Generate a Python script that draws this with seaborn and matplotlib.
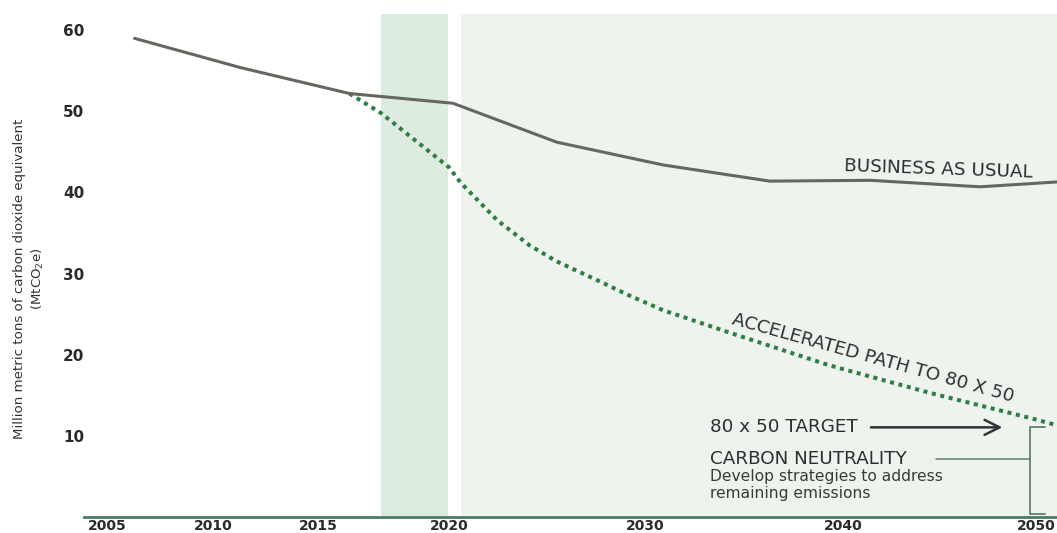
import numpy as np
import pandas as pd
import matplotlib
matplotlib.use("Agg")
import matplotlib.pyplot as plt
import seaborn as sns

# ---- data (MtCO2e) ----
bau_years = [2006.3, 2011.3, 2016.2, 2020.2, 2025.5, 2030.9, 2036.3, 2041.4, 2047.1, 2051.1]
bau_values = [59.0, 55.4, 52.2, 51.0, 46.2, 43.4, 41.4, 41.5, 40.7, 41.3]

accel_years = [2016.2, 2017.4, 2020.0, 2020.6, 2022.45, 2024.1, 2025.5, 2027.55,
               2029.2, 2030.9, 2032.6, 2034.3, 2039.3, 2044.5, 2049.7, 2051.1]
accel_values = [52.2, 49.8, 43.1, 41.2, 36.6, 33.5, 31.5, 29.2,
                27.3, 25.5, 24.1, 22.7, 18.7, 15.3, 12.2, 11.3]

tick_years = [2005, 2010, 2015, 2020, 2030, 2040, 2050]
y_ticks = [10, 20, 30, 40, 50, 60]

target_value = 11.05        # 80 x 50 target level
neutral_value = 0.43        # carbon neutrality level

phase1 = (2017.4, 2019.96)  # near-term action window
phase2 = (2020.6, 2060)     # long-term pathway

# ---- non-uniform year axis (piecewise-linear spacing between labelled years) ----
scale_years = np.array([2000, 2005, 2010, 2015, 2020, 2030, 2040, 2050, 2060], float)
scale_units = np.array([1, 107, 213, 318, 449, 645, 843, 1036, 1229], float)


def _piecewise(x, xs, ys):
    x = np.asarray(x, dtype=float)
    y = np.interp(x, xs, ys)
    lo_slope = (ys[1] - ys[0]) / (xs[1] - xs[0])
    hi_slope = (ys[-1] - ys[-2]) / (xs[-1] - xs[-2])
    y = np.where(x < xs[0], ys[0] + (x - xs[0]) * lo_slope, y)
    y = np.where(x > xs[-1], ys[-1] + (x - xs[-1]) * hi_slope, y)
    return y


def year_to_unit(x):
    return _piecewise(x, scale_years, scale_units)


def unit_to_year(u):
    return _piecewise(u, scale_units, scale_years)


# ---- styling ----
sns.set_theme(style="white")
plt.rcParams["font.family"] = ["DejaVu Sans"]

W, H = 1057, 533
fig = plt.figure(figsize=(W / 100, H / 100), dpi=100, facecolor="white")
ax_left, ax_right, ax_top, ax_bottom = 84, 1057, 14, 517
ax = fig.add_axes([ax_left / W, (H - ax_bottom) / H,
                   (ax_right - ax_left) / W, (ax_bottom - ax_top) / H])
ax.set_facecolor("white")

ax.set_xscale("function", functions=(year_to_unit, unit_to_year))
ax.set_xlim(float(unit_to_year(ax_left)), float(unit_to_year(ax_right)))
ax.set_ylim(0, 62)

# shaded phases
ax.axvspan(*phase1, color="#deecdf", lw=0, zorder=0)
ax.axvspan(*phase2, color="#eef4ed", lw=0, zorder=0)

bau_df = pd.DataFrame({"year": bau_years, "value": bau_values})
accel_df = pd.DataFrame({"year": accel_years, "value": accel_values})

sns.lineplot(data=accel_df, x="year", y="value", ax=ax, color="#2f7d45",
             lw=2.9, linestyle=(0, (1.0, 1.15)), dash_capstyle="butt", zorder=3)
sns.lineplot(data=bau_df, x="year", y="value", ax=ax, color="#676761",
             lw=2.2, solid_joinstyle="round", zorder=4)

# axes decoration
for side in ("top", "right", "left"):
    ax.spines[side].set_visible(False)
ax.spines["bottom"].set_color("#4b7a63")
ax.spines["bottom"].set_linewidth(2.0)

ax.set_xticks(tick_years)
ax.set_xticklabels([str(t) for t in tick_years])
ax.set_yticks(y_ticks)
ax.set_yticklabels([str(t) for t in y_ticks])
ax.tick_params(axis="x", length=0, pad=1.2, labelsize=10, labelcolor="#2a2a2a")
ax.tick_params(axis="y", length=0, pad=15.1, labelsize=11, labelcolor="#2a2a2a")
for lbl in ax.get_xticklabels() + ax.get_yticklabels():
    lbl.set_fontweight("bold")
for lbl in ax.get_yticklabels():
    lbl.set_horizontalalignment("left")
ax.set_xlabel("")

ax.set_ylabel("Million metric tons of carbon dioxide equivalent\n(MtCO$_2$e)",
              fontsize=9.6, color="#333333", linespacing=1.25)
ax.yaxis.set_label_coords((29.5 - ax_left) / (ax_right - ax_left),
                          (ax_bottom - 279) / (ax_bottom - ax_top))
ax.yaxis.label.set_verticalalignment("center")

# series labels
ax.text(2044.97, 42.8, "BUSINESS AS USUAL", fontsize=13.2, color="#2e2e33",
        rotation=-2, ha="center", va="center", zorder=5)
ax.text(2041.55, 19.6, "ACCELERATED PATH TO 80 X 50", fontsize=13.2, color="#2e2e33",
        rotation=-15.5, ha="center", va="center", zorder=5)

# target / neutrality annotations
ax.text(2033.3, target_value, "80 x 50 TARGET", fontsize=13.2, color="#2e2e33",
        ha="left", va="center", zorder=5)
ax.annotate("", xy=(2048.4, target_value), xytext=(2041.3, target_value),
            arrowprops=dict(arrowstyle="->,head_length=0.9,head_width=0.45",
                            color="#333338", lw=1.8), zorder=5)

ax.text(2033.3, 7.2, "CARBON NEUTRALITY", fontsize=13.2, color="#2e2e33",
        ha="left", va="center", zorder=5)
ax.text(2033.3, 5.0, "Develop strategies to address", fontsize=11.2,
        color="#3a3a3a", ha="left", va="center", zorder=5)
ax.text(2033.3, 2.9, "remaining emissions", fontsize=11.2,
        color="#3a3a3a", ha="left", va="center", zorder=5)

bracket_color = "#5f8070"
bx, bx_end = 2049.69, 2050.47
ax.plot([2044.8, bx], [7.1, 7.1], color=bracket_color, lw=1.1, zorder=5)
ax.plot([bx_end, bx, bx, bx_end], [target_value, target_value, neutral_value, neutral_value],
        color=bracket_color, lw=1.3, zorder=5)

fig.savefig("out.png", dpi=100, facecolor="white")
